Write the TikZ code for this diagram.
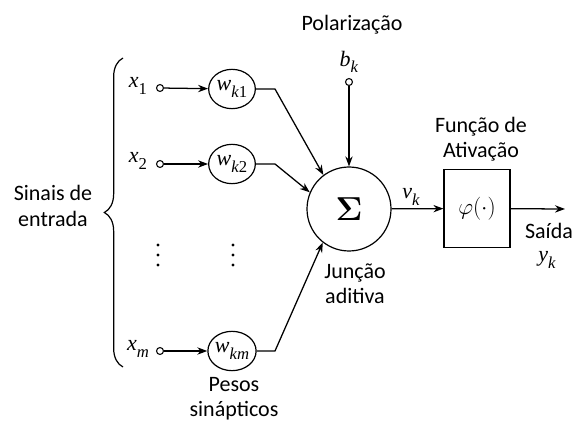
\documentclass[tikz,border=0pt]{standalone}
\usepackage{amsmath}
\usepackage[no-math]{fontspec}
\setmainfont{Carlito}
\newfontfamily\tms{Liberation Serif}
\newcommand{\vlab}[2]{{\tms\itshape #1\/}\raisebox{-0.3em}{\tms\fontsize{12.5}{13}\selectfont #2}}
\usetikzlibrary{arrows.meta,decorations.pathreplacing,calc,shapes.geometric}
\begin{document}
\begin{tikzpicture}[x=0.75pt,y=-0.75pt,
  txt/.style={font=\fontsize{16.5}{19}\selectfont, align=center, inner sep=0pt},
  lbl/.style={font=\fontsize{16.5}{19}\selectfont, inner sep=0pt},
  term/.style={circle, draw, minimum size=5.2pt, inner sep=0pt, line width=0.8pt},
  wnode/.style={ellipse, draw, minimum width=35pt, minimum height=29.5pt, inner sep=0pt, line width=0.9pt, font=\fontsize{16.5}{19}\selectfont},
  sumnode/.style={circle, draw, minimum size=63pt, inner sep=0pt, line width=0.9pt},
  fbox/.style={rectangle, draw, minimum width=49.5pt, minimum height=58pt, inner sep=0pt, line width=0.9pt, font=\fontsize{17}{20}\selectfont},
  arr/.style={-{Stealth[length=7.5pt,width=5.5pt]}, line width=0.95pt},
  ln/.style={line width=0.9pt}
]
\useasboundingbox (0,0) rectangle (579,424);

% inputs
\node[lbl] (x1l) at (138,86) {\vlab{x}{1}};
\node[term] (x1) at (160,88) {};
\node[wnode] (w1) at (232,89) {\vlab{w}{\textit{k}1}};
\node[lbl] (x2l) at (138,161) {\vlab{x}{2}};
\node[term] (x2) at (160,164) {};
\node[wnode] (w2) at (232,164) {\vlab{w}{\textit{k}2}};
\node[lbl] (xml) at (138,349) {\vlab{x}{\textit{m}}};
\node[term] (xm) at (160,351) {};
\node[wnode] (wm) at (232,351) {\vlab{w}{\textit{km}}};

\coordinate (b1) at (275,89);
\coordinate (b2) at (275,164);
\coordinate (bm) at (275,351);

% dots
\foreach \xx in {158,233}{
  \foreach \yy in {245,255,265}{
    \fill (\xx,\yy) circle (1.3pt);
  }
}

% summing junction
\node[sumnode] (S) at (349,209) {\fontsize{28}{30}\selectfont$\mathbf{\Sigma}$};

% bias
\node[txt] (pol) at (352,25) {Polarização};
\node[lbl] (bkl) at (349,62) {\vlab{b}{\textit{k}}};
\node[term] (bc) at (349,82) {};

% activation
\node[fbox] (F) at (477,208.5) {$\varphi(\cdot)$};
\node[txt] (fa) at (481,139) {Função de\\Ativação};
\coordinate (out) at (565,209);

% labels
\node[lbl] (vk) at (411,197) {\vlab{v}{\textit{k}}};
\node[txt] (sai) at (549,231) {Saída};
\node[lbl] (yk) at (547,260) {\vlab{y}{\textit{k}}};
\node[txt] (jun) at (355,284) {Junção\\aditiva};
\node[txt] (pes) at (234,399) {Pesos\\sinápticos};
\node[txt] (sin) at (53,206) {Sinais de\\entrada};

% connectors
\draw[arr] (x1) -- (w1);
\draw[arr] (x2) -- (w2);
\draw[arr] (xm) -- (wm);
\draw[arr] (w1.east) -- (b1) -- (S.127);
\draw[arr] (w2.east) -- (b2) -- (S.157);
\draw[arr] (wm.east) -- (bm) -- (S.232);
\draw[arr] (bc) -- (S.north);
\draw[arr] (S) -- (F);
\draw[arr] (F) -- (out);

% brace
\coordinate (brb) at (123,367);
\coordinate (brt) at (123,58);
\draw[ln, decorate, decoration={brace, amplitude=14pt}] (brb) -- (brt);
\end{tikzpicture}
\end{document}
